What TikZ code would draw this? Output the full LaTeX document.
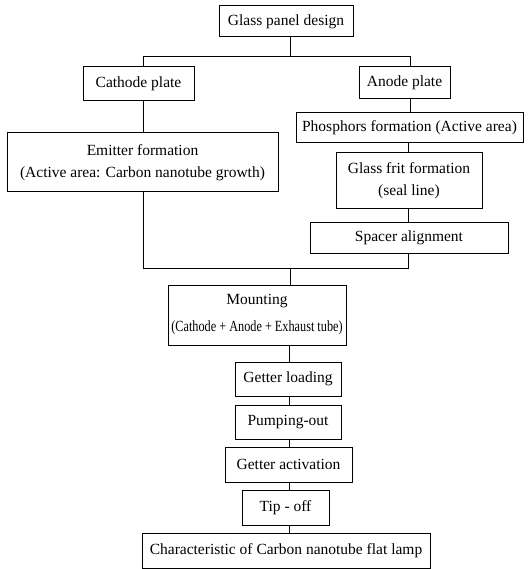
\documentclass[tikz,border=0pt]{standalone}
\usepackage{graphicx}
\usepackage{fontspec}
\setmainfont{Liberation Serif}
\begin{document}
\begin{tikzpicture}[x=1pt,y=-1pt,
  box/.style={draw,line width=1pt,rectangle,inner sep=0pt,align=center,
    font=\fontsize{15.5}{22}\selectfont},
  link/.style={line width=1pt}]
\useasboundingbox (0,0) rectangle (528,569);
\node[box,minimum width=134pt,minimum height=31pt] (gpd) at (286,21.5) {Glass panel design};
\node[box,minimum width=111pt,minimum height=34pt] (cath) at (138.5,84) {Cathode plate};
\node[box,minimum width=91pt,minimum height=32pt] (anode) at (404.5,83) {Anode plate};
\node[box,minimum width=271pt,minimum height=59pt] (emit) at (142.5,162.5) {Emitter formation\\(Active area: Carbon nanotube growth)};
\node[box,minimum width=227pt,minimum height=30pt] (phos) at (409.5,128) {Phosphors formation (Active area)};
\node[box,minimum width=146pt,minimum height=55pt] (frit) at (409,180.5) {Glass frit formation\\(seal line)};
\node[box,minimum width=198pt,minimum height=31pt] (spacer) at (409,237.5) {Spacer alignment};
\node[box,minimum width=178pt,minimum height=60pt,font=\fontsize{15.5}{27}\selectfont] (mount) at (257,315) {Mounting\\\scalebox{0.79}[1]{(Cathode + Anode + Exhaust tube)}};
\node[box,minimum width=106pt,minimum height=34pt] (gl) at (288,379) {Getter loading};
\node[box,minimum width=106pt,minimum height=34pt] (pump) at (288,422) {Pumping-out};
\node[box,minimum width=127pt,minimum height=35pt] (act) at (288.5,464.5) {Getter activation};
\node[box,minimum width=87pt,minimum height=35pt] (tip) at (285.5,507.5) {Tip - off};
\node[box,minimum width=288pt,minimum height=35pt] (char) at (286,550.5) {Characteristic of Carbon nanotube flat lamp};
% junction coordinates
\coordinate (b1L) at (143,57);
\coordinate (b1R) at (410,57);
\coordinate (b1M) at (290,57);
\coordinate (b2L) at (143,268);
\coordinate (b2R) at (408,268);
\coordinate (b2M) at (290,268);
\coordinate (xm) at (289,0);
% top bus
\draw[link] (gpd.south -| b1M) -- (b1M);
\draw[link] (cath.north -| b1L) -- (b1L) -- (b1R) -- (anode.north -| b1R);
\draw[link] (cath.south -| b1L) -- (emit.north -| b1L);
\draw[link] (anode.south -| b1R) -- (phos.north -| b1R);
\draw[link] (phos.south -| b2R) -- (frit.north -| b2R);
\draw[link] (frit.south -| b2R) -- (spacer.north -| b2R);
% bottom bus
\draw[link] (emit.south -| b2L) -- (b2L) -- (b2R) -- (spacer.south -| b2R);
\draw[link] (b2M) -- (mount.north -| b2M);
% chain
\draw[link] (mount.south -| xm) -- (gl.north -| xm);
\draw[link] (gl.south -| xm) -- (pump.north -| xm);
\draw[link] (pump.south -| xm) -- (act.north -| xm);
\draw[link] (act.south -| xm) -- (tip.north -| xm);
\draw[link] (tip.south -| xm) -- (char.north -| xm);
\end{tikzpicture}
\end{document}
